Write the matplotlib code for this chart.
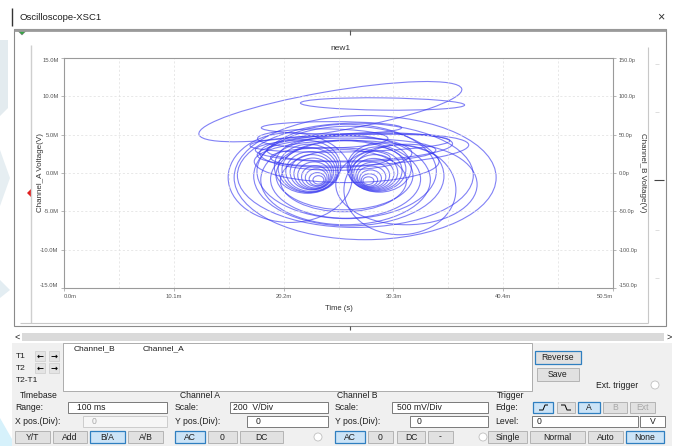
import matplotlib
matplotlib.use('Agg')
import matplotlib.pyplot as plt
from matplotlib.patches import Ellipse, Rectangle, Circle, Polygon
from matplotlib.ticker import MultipleLocator

plt.rcParams['font.family'] = ['Liberation Sans', 'DejaVu Sans']

# 坐标轴刻度 (x: ms, 左 y: MV, 右 y: pV)
x_ticks = [0, 10.1, 20.2, 30.3, 40.4, 50.5]
x_labels = ['0.0m', '10.1m', '20.2m', '30.3m', '40.4m', '50.5m']
ya_ticks = [-15, -10, -5, 0, 5, 10, 15]
ya_labels = ['-15.0M', '-10.0M', '-5.0M', '0.0M', '5.0M', '10.0M', '15.0M']
yb_ticks = [-150, -100, -50, 0, 50, 100, 150]
yb_labels = ['-150.0p', '-100.0p', '-50.0p', '0.0p', '50.0p', '100.0p', '150.0p']

# B/A 轨迹: 左右两个涡旋, 每圈记为 (中心x, 中心y, 宽, 高)
lobe_a_cx = [23.4, 23.3, 23.2, 23.1, 23.0, 22.9, 22.8, 22.7, 22.6, 22.5, 22.4]
lobe_a_cy = [-0.9, -0.8, -0.6, -0.5, -0.3, -0.1, 0.1, 0.2, 0.4, 0.6, 0.8]
lobe_a_w = [1.0, 1.5, 2.0, 2.5, 3.0, 3.5, 4.0, 4.6, 5.1, 5.6, 6.1]
lobe_a_h = [1.1, 1.7, 2.3, 2.9, 3.5, 4.1, 4.6, 5.2, 5.8, 6.3, 6.9]

lobe_b_cx = [28.0, 28.1, 28.2, 28.3, 28.4, 28.5, 28.6, 28.7, 28.8, 29.0]
lobe_b_cy = [-1.0, -0.9, -0.7, -0.5, -0.3, -0.1, 0.1, 0.3, 0.5, 0.7]
lobe_b_w = [1.0, 1.5, 2.0, 2.6, 3.1, 3.7, 4.2, 4.8, 5.3, 5.9]
lobe_b_h = [1.0, 1.6, 2.2, 2.8, 3.4, 4.0, 4.6, 5.2, 5.8, 6.4]

# 外圈大回环 (含倾角, 度)
outer_cx = [25.7, 25.8, 25.9, 25.9, 26.0, 26.2, 27.7, 26.8, 20.8, 30.9,
            24.5, 29.3, 24.6, 25.9, 26.3, 24.5, 27.2, 25.0, 26.0, 27.5, 23.8, 31.5]
outer_cy = [-1.0, -0.3, -0.8, -0.9, 0.2, -0.4, -0.6, -0.3, -0.6, -2.2,
            8.0, 9.0, 5.9, 3.0, 3.9, 2.0, 3.4, 2.6, 1.5, 3.0, 4.5, -1.5]
outer_w = [11.6, 12.6, 13.8, 15.6, 16.5, 17.5, 24.1, 21.7, 11.4, 10.3,
           24.9, 15.1, 12.9, 16.6, 18.4, 11.0, 17.1, 14.0, 17.0, 19.5, 12.0, 13.0]
outer_h = [8.1, 9.0, 10.2, 11.7, 12.3, 13.0, 16.2, 13.6, 11.7, 11.7,
           5.2, 1.6, 1.6, 3.1, 2.3, 2.6, 3.6, 4.5, 5.5, 4.0, 2.5, 10.5]
outer_ang = [0, 0, 0, 0, 0, 0, 0, 0, 0, 0,
             14, -1, 0, 0, 2, 0, 3, 0, 0, 4, 0, 0]

TRACE = '#3434f0'
TXT = '#1e1e1e'

fig = plt.figure(figsize=(6.8, 4.46), dpi=100)
fig.patch.set_facecolor('white')

# 整个窗口用像素坐标画
ui = fig.add_axes([0, 0, 1, 1])
ui.set_xlim(0, 680)
ui.set_ylim(446, 0)
ui.axis('off')


def line(x, y, c='#bdbdbd', lw=0.8):
    ui.plot(x, y, color=c, lw=lw, solid_capstyle='butt')


def box(x0, y0, x1, y1, fc='white', ec='#7a7a7a', lw=0.7):
    ui.add_patch(Rectangle((x0, y0), x1 - x0, y1 - y0, fc=fc, ec=ec, lw=lw))


def label(x, y, s, size=6.2, c=TXT, ha='left'):
    ui.text(x, y, s, fontsize=size, color=c, ha=ha, va='center')


def button(x0, x1, y0, y1, s, on=False, dim=False):
    if on:
        box(x0, y0, x1, y1, fc='#cce4f7', ec='#2f7fc0', lw=0.9)
    else:
        box(x0, y0, x1, y1, fc='#e1e1e1', ec='#b4b4b4')
    label((x0 + x1) / 2, (y0 + y1) / 2, s, c='#a8a8a8' if dim else TXT, ha='center')


# 左侧背景
ui.add_patch(Polygon([(0, 40), (8, 40), (8, 108), (0, 116)], fc='#e3ebef', ec='none'))
ui.add_patch(Polygon([(0, 150), (10, 178), (0, 206)], fc='#e6eef2', ec='none'))
ui.add_patch(Polygon([(0, 280), (10, 290), (0, 298)], fc='#e3edf2', ec='none'))
ui.add_patch(Polygon([(0, 418), (16, 446), (0, 446)], fc='#d6f1fb', ec='none'))

# 标题栏
line([12, 12], [8, 26], c='#333333', lw=1.0)
label(20, 17, 'Oscilloscope-XSC1', size=6.8)
ui.text(661, 17, '\u00d7', fontsize=9, color='#333333', ha='center', va='center')

# 图形框
box(14, 29, 666, 326, fc='white', ec='#8a8a8a', lw=0.8)
line([14, 666], [29.5, 29.5], c='#9a9a9a', lw=2.0)
line([31, 31], [45, 323], c='#cfcfcf', lw=1.0)
line([20, 648], [323, 323], c='#c8c8c8', lw=0.8)
line([648, 648], [47, 323], c='#c8c8c8', lw=0.8)
for yy in [64, 112, 230, 278]:
    line([655, 659], [yy, yy], c='#d8d8d8', lw=0.6)
line([654, 664], [180, 180], c='#444444', lw=0.8)
line([350, 350], [30, 35], c='#555555', lw=0.8)
line([350, 350], [326, 330], c='#555555', lw=0.8)
ui.add_patch(Polygon([(17, 30), (27, 30), (22, 35)], fc='#35a845', ec='#7a7a7a', lw=0.4))
ui.add_patch(Polygon([(32, 188), (32, 198), (27, 193)], fc='#e02020', ec='none'))
ui.text(340, 48, 'new1', fontsize=6, color='#333333', ha='center', va='center')

# 滚动条
box(22, 333, 664, 341, fc='#dadada', ec='none')
label(17, 337, '<', size=6.5, ha='center')
label(669, 337, '>', size=6.5, ha='center')

# 下方控制面板
box(12, 343, 672, 446, fc='#f0f0f0', ec='none')
box(63, 343, 532, 391, fc='white', ec='#a0a0a0', lw=0.6)
label(74, 349, 'Channel_B', size=6)
label(143, 349, 'Channel_A', size=6)
for yy, t in [(356, 'T1'), (368, 'T2')]:
    label(16, yy, t, size=6)
    for xx, a in [(40, '\u2190'), (54, '\u2192')]:
        box(xx - 5, yy - 5, xx + 5, yy + 5, fc='#e4e4e4', ec='#cccccc', lw=0.5)
        ui.text(xx, yy, a, fontsize=6, color='black', ha='center', va='center',
                fontweight='bold', family='DejaVu Sans')
label(16, 380, 'T2-T1', size=6)

box(535, 351, 581, 364, fc='#e1e1e1', ec='#2f7fc0', lw=0.9)
label(558, 357.5, 'Reverse', ha='center')
button(537, 579, 368, 381, 'Save')
label(596, 385, 'Ext. trigger')
ui.add_patch(Circle((655, 385), 4, fc='white', ec='#c0c0c0', lw=0.6))

# Timebase
label(20, 395, 'Timebase')
label(15, 408, 'Range:')
box(68, 402, 167, 413)
label(77, 407.5, '100 ms')
label(15, 422, 'X pos.(Div):')
box(83, 416, 167, 427, fc='#f6f6f6', ec='#cccccc')
label(92, 421.5, '0', c='#a8a8a8')
button(15, 50, 431, 443, 'Y/T')
button(53, 87, 431, 443, 'Add')
button(90, 125, 431, 443, 'B/A', on=True)
button(128, 163, 431, 443, 'A/B')

# Channel A
label(180, 395, 'Channel A')
label(175, 408, 'Scale:')
box(230, 402, 328, 413)
label(233, 407.5, '200  V/Div')
label(175, 422, 'Y pos.(Div):')
box(247, 416, 328, 427)
label(256, 421.5, '0')
button(175, 205, 431, 443, 'AC', on=True)
button(208, 237, 431, 443, '0')
button(240, 283, 431, 443, 'DC')
ui.add_patch(Circle((318, 437), 4, fc='white', ec='#c0c0c0', lw=0.6))

# Channel B
label(337, 395, 'Channel B')
label(335, 408, 'Scale:')
box(392, 402, 488, 413)
label(397, 407.5, '500 mV/Div')
label(335, 422, 'Y pos.(Div):')
box(410, 416, 488, 427)
label(417, 421.5, '0')
button(335, 365, 431, 443, 'AC', on=True)
button(368, 393, 431, 443, '0')
button(397, 425, 431, 443, 'DC')
button(428, 453, 431, 443, '-')
ui.add_patch(Circle((483, 437), 4, fc='white', ec='#c0c0c0', lw=0.6))

# Trigger
label(497, 395, 'Trigger')
label(495, 408, 'Edge:')
button(533, 553, 402, 413, '', on=True)
button(557, 575, 402, 413, '')
line([539, 543, 545, 548], [410, 410, 405, 405], c='black', lw=0.7)
line([561, 565, 567, 571], [405, 405, 410, 410], c='black', lw=0.7)
button(578, 600, 402, 413, 'A', on=True)
button(603, 627, 402, 413, 'B', dim=True)
button(630, 655, 402, 413, 'Ext', dim=True)
label(495, 422, 'Level:')
box(532, 416, 638, 427)
label(537, 421.5, '0')
box(640, 416, 665, 427)
label(652.5, 421.5, 'V', ha='center')
button(488, 527, 431, 443, 'Single')
button(530, 585, 431, 443, 'Normal')
button(588, 623, 431, 443, 'Auto')
button(626, 664, 431, 443, 'None', on=True)

# 波形区
ax = fig.add_axes([64 / 680, 1 - 288 / 446, 549 / 680, 230 / 446])
ax.set_xlim(0, 50.5)
ax.set_ylim(-15, 15)
ax.set_facecolor('white')

loops = list(zip(lobe_a_cx, lobe_a_cy, lobe_a_w, lobe_a_h, [0] * len(lobe_a_cx)))
loops += list(zip(lobe_b_cx, lobe_b_cy, lobe_b_w, lobe_b_h, [0] * len(lobe_b_cx)))
loops += list(zip(outer_cx, outer_cy, outer_w, outer_h, outer_ang))
for cx, cy, w, h, a in loops:
    ax.add_patch(Ellipse((cx, cy), w, h, angle=a, fill=False, ec=TRACE, lw=0.8, alpha=0.62))

ax.set_xticks(x_ticks)
ax.set_xticklabels(x_labels)
ax.xaxis.set_minor_locator(MultipleLocator(5.05))
ax.set_yticks(ya_ticks)
ax.set_yticklabels(ya_labels)
ax.grid(which='both', ls=(0, (3, 3)), color='#dedede', lw=0.5)
ax.tick_params(which='both', length=2, width=0.5, color='#9a9a9a', labelsize=4.2,
               labelcolor='#555555', pad=2)
ax.tick_params(which='minor', length=0)
xl = ax.get_xticklabels()
xl[0].set_ha('left')
xl[-1].set_ha('right')
yl = ax.get_yticklabels()
yl[0].set_va('bottom')
yl[-1].set_va('top')
for s in ax.spines.values():
    s.set_color('#9a9a9a')
    s.set_linewidth(0.8)
ax.set_ylabel('Channel_A Voltage(V)', fontsize=5.8, color='#333333')
ax.yaxis.set_label_coords(-0.037, 0.5)
ax.set_xlabel('Time (s)', fontsize=5.5, color='#333333')
ax.xaxis.set_label_coords(0.5, -0.075)

ax2 = ax.twinx()
ax2.set_ylim(-150, 150)
ax2.set_yticks(yb_ticks)
ax2.set_yticklabels(yb_labels)
ax2.tick_params(length=2, width=0.5, color='#9a9a9a', labelsize=4.0, labelcolor='#555555', pad=2)
rl = ax2.get_yticklabels()
rl[0].set_va('bottom')
rl[-1].set_va('top')
for s in ax2.spines.values():
    s.set_visible(False)
ax2.set_ylabel('Channel_B Voltage(V)', fontsize=5.8, color='#333333', rotation=270)
ax2.yaxis.set_label_coords(1.06, 0.5)

fig.savefig('out.png', dpi=100)
